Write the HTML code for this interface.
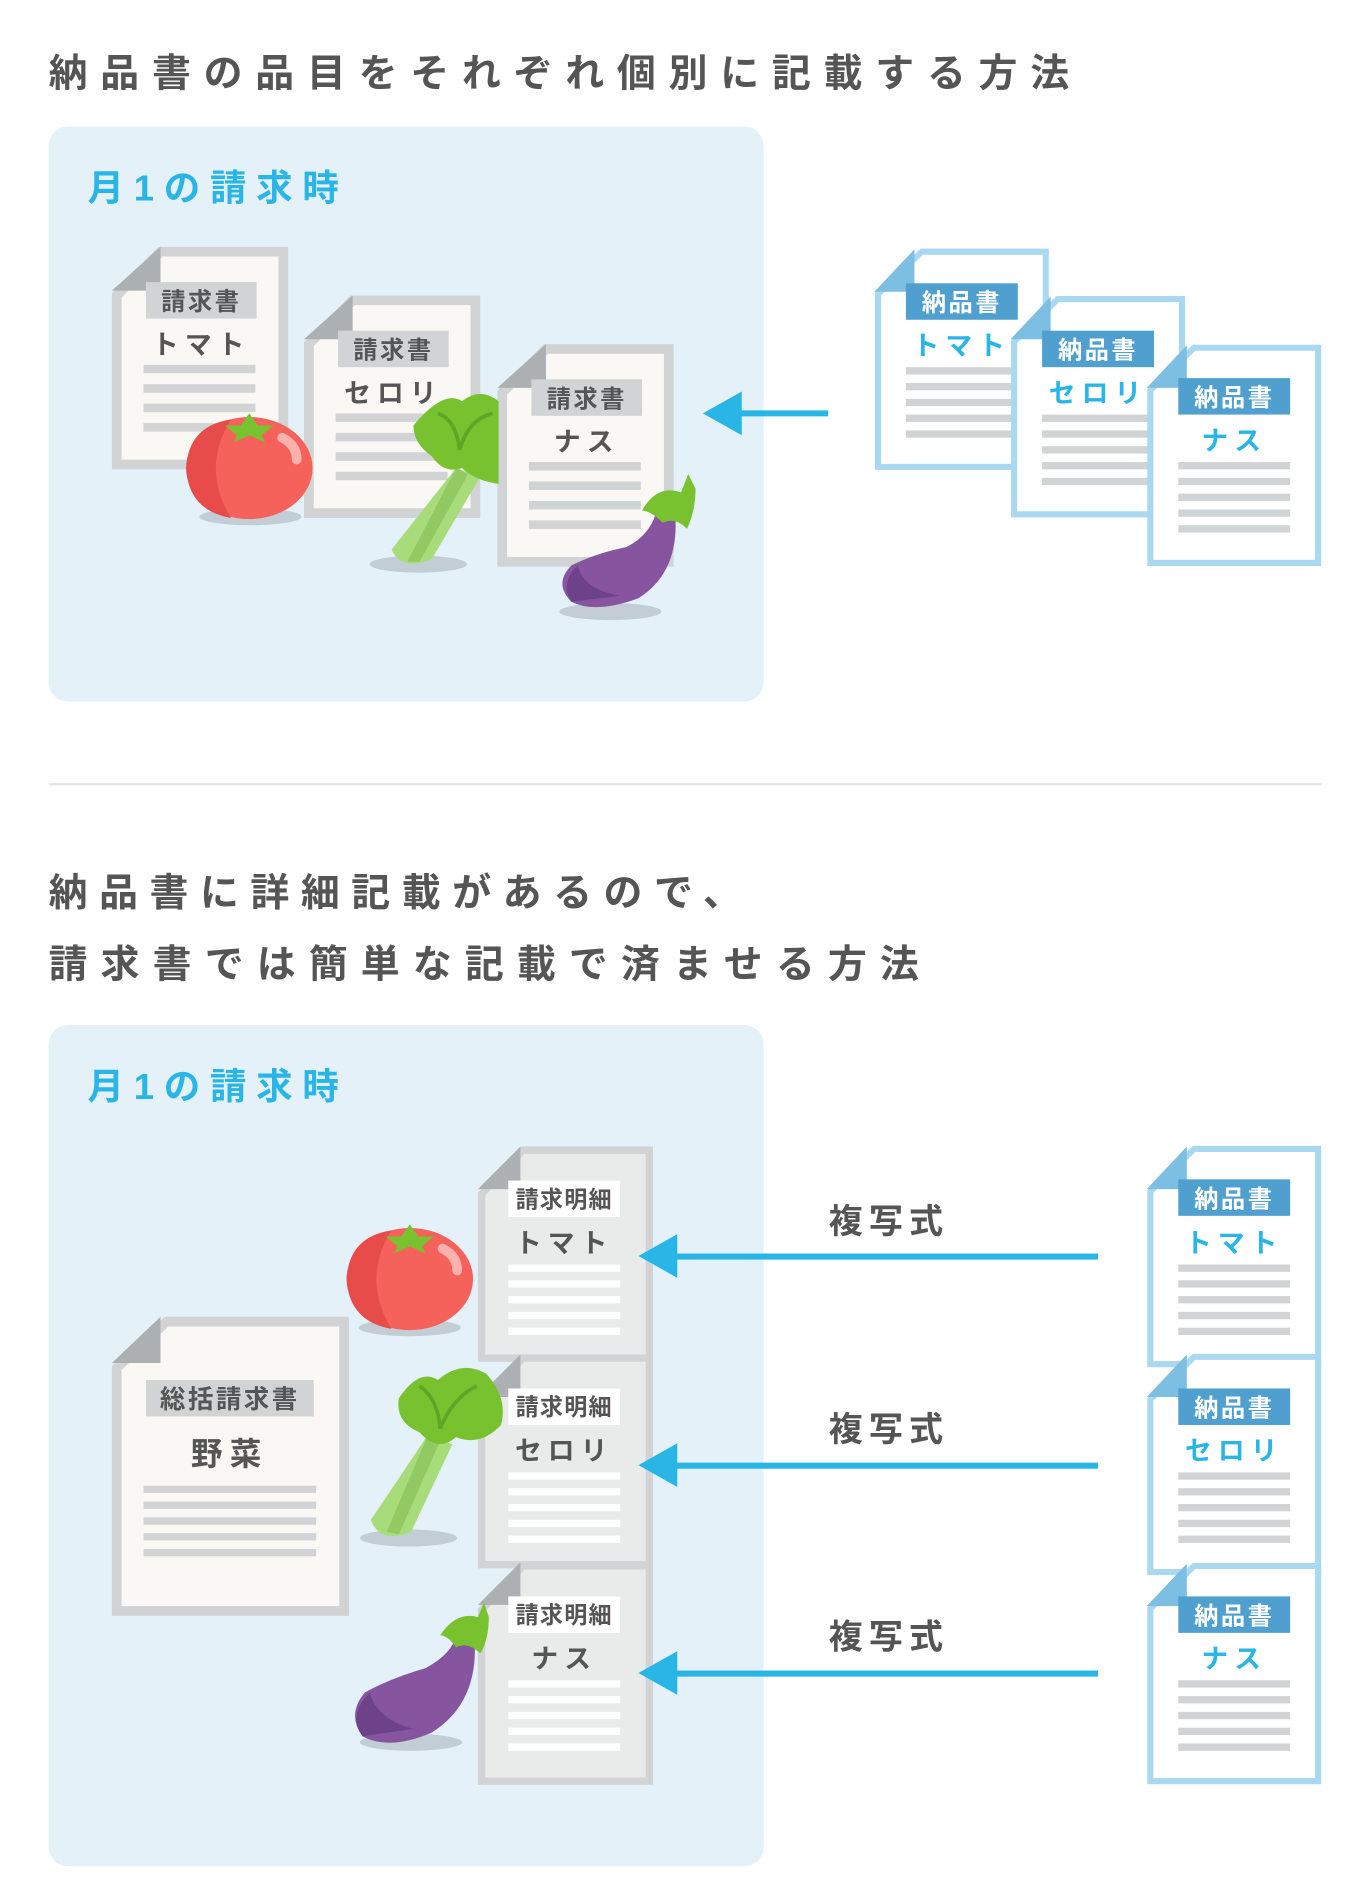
<!DOCTYPE html>
<html><head><meta charset="utf-8">
<style>
html,body{margin:0;padding:0;background:#fff;}
svg{display:block;}
text{font-family:"Liberation Sans","Noto Sans CJK JP",sans-serif;}
</style></head>
<body>
<svg width="1368" height="1904" viewBox="0 0 1125 1566" preserveAspectRatio="none" xmlns="http://www.w3.org/2000/svg">
<!-- headings -->
<text x="40" y="71" font-size="32" font-weight="bold" fill="#555" letter-spacing="10.5">納品書の品目をそれぞれ個別に記載する方法</text>
<line x1="40" y1="645" x2="1087" y2="645" stroke="#e6e6e6" stroke-width="2"/>
<text x="40" y="745" font-size="32" font-weight="bold" fill="#555" letter-spacing="9.5">納品書に詳細記載があるので、</text>
<text x="40" y="804" font-size="32" font-weight="bold" fill="#555" letter-spacing="10.8">請求書では簡単な記載で済ませる方法</text>

<!-- panels -->
<rect x="40" y="104" width="588" height="473" rx="16" fill="#e4f1f9"/>
<text x="72" y="165" font-size="30" font-weight="bold" fill="#29b5e8" letter-spacing="8">月1の請求時</text>
<rect x="40" y="843" width="588" height="692" rx="16" fill="#e4f1f9"/>
<text x="72" y="904" font-size="30" font-weight="bold" fill="#29b5e8" letter-spacing="8">月1の請求時</text>

<!-- TOP gray docs -->
<g>
<polygon points="132,207 233,207 233,382 96,382 96,243" fill="#f9f8f4" stroke="#d1d3d4" stroke-width="8"/>
<polygon points="92,239 132,203 132,239" fill="#adb0b2"/>
<rect x="120" y="232" width="91" height="30" fill="#d1d3d4"/>
<text x="165.5" y="255" font-size="20" font-weight="bold" fill="#555" text-anchor="middle" letter-spacing="2">請求書</text>
<text x="165.5" y="291" font-size="22" font-weight="bold" fill="#555" text-anchor="middle" letter-spacing="5">トマト</text>
<g fill="#d1d3d4"><rect x="118" y="300" width="92" height="7"/><rect x="118" y="316" width="92" height="7"/><rect x="118" y="332" width="92" height="7"/><rect x="118" y="348" width="92" height="7"/></g>
</g>
<g>
<polygon points="290,247 391,247 391,422 254,422 254,283" fill="#f9f8f4" stroke="#d1d3d4" stroke-width="8"/>
<polygon points="250,279 290,243 290,279" fill="#adb0b2"/>
<rect x="278" y="272" width="91" height="30" fill="#d1d3d4"/>
<text x="323.5" y="295" font-size="20" font-weight="bold" fill="#555" text-anchor="middle" letter-spacing="2">請求書</text>
<text x="323.5" y="331" font-size="22" font-weight="bold" fill="#555" text-anchor="middle" letter-spacing="5">セロリ</text>
<g fill="#d1d3d4"><rect x="276" y="340" width="92" height="7"/><rect x="276" y="356" width="92" height="7"/><rect x="276" y="372" width="92" height="7"/><rect x="276" y="388" width="92" height="7"/></g>
</g>
<g>
<polygon points="449,287 550,287 550,462 413,462 413,323" fill="#f9f8f4" stroke="#d1d3d4" stroke-width="8"/>
<polygon points="409,319 449,283 449,319" fill="#adb0b2"/>
<rect x="437" y="312" width="91" height="30" fill="#d1d3d4"/>
<text x="482.5" y="335" font-size="20" font-weight="bold" fill="#555" text-anchor="middle" letter-spacing="2">請求書</text>
<text x="482.5" y="371" font-size="22" font-weight="bold" fill="#555" text-anchor="middle" letter-spacing="5">ナス</text>
<g fill="#d1d3d4"><rect x="435" y="380" width="92" height="7"/><rect x="435" y="396" width="92" height="7"/><rect x="435" y="412" width="92" height="7"/><rect x="435" y="428" width="92" height="7"/></g>
</g>

<!-- top vegetables -->
<g>
<ellipse cx="206" cy="425" rx="42" ry="7" fill="#c2cdd5"/>
<ellipse cx="205" cy="385" rx="52" ry="42" fill="#f5625b"/>
<path d="M190,345 Q165,385 190,426 Q155,420 153,385 Q155,350 190,345Z" fill="#e84c4a"/>
<polygon points="205,340 212,350 225,350 215,358 218,364 205,358 192,364 195,358 185,350 198,350" fill="#78c22f"/>
<path d="M232,360 Q244,366 244,378" stroke="#fbb1ad" stroke-width="8" fill="none" stroke-linecap="round"/>
</g>
<g>
<ellipse cx="344" cy="464" rx="40" ry="7" fill="#c2cdd5"/>
<path d="M375,385 L395,392 L355,460 Q330,470 322,452 Z" fill="#a8dc7a"/>
<path d="M375,385 L385,390 L345,462 L335,462Z" fill="#92c962"/>
<path d="M340,350 Q365,320 380,330 Q395,318 410,330 L410,398 Q390,395 380,385 Q365,390 355,375 Q340,365 340,350Z" fill="#78c22f"/>
<path d="M360,340 Q375,345 378,370 Q385,345 405,340" stroke="#5ea625" stroke-width="3" fill="none"/>
</g>
<g>
<ellipse cx="502" cy="503" rx="42" ry="7" fill="#c2cdd5"/>
<path d="M555,420 Q560,470 525,492 Q490,505 470,495 Q455,480 470,465 Q490,455 515,450 Q535,440 540,420Z" fill="#8755a0"/>
<path d="M470,495 Q460,480 475,465 Q480,485 510,490 Z" fill="#6e4288"/>
<path d="M528,420 Q540,398 560,405 L566,390 L572,402 Q572,420 565,435 Q555,425 545,430 Q535,420 528,420Z" fill="#78c22f"/>
</g>

<!-- top arrow -->
<line x1="605" y1="340" x2="681" y2="340" stroke="#29b6e6" stroke-width="5"/>
<polygon points="578,340 610,322 610,358" fill="#29b6e6"/>

<!-- TOP blue docs -->
<g>
<polygon points="758,207 860,207 860,384 722,384 722,242" fill="#fff" stroke="#a9d8f0" stroke-width="5"/>
<polygon points="719,240 752,205 752,240" fill="#7cbfe3"/>
<rect x="745" y="233" width="92" height="30" fill="#4f9fcf"/>
<text x="791" y="256" font-size="20" font-weight="bold" fill="#fff" text-anchor="middle" letter-spacing="2">納品書</text>
<text x="791" y="292" font-size="22" font-weight="bold" fill="#29b5e8" text-anchor="middle" letter-spacing="5">トマト</text>
<g fill="#d1d3d4"><rect x="745" y="302" width="92" height="6"/><rect x="745" y="315" width="92" height="6"/><rect x="745" y="328" width="92" height="6"/><rect x="745" y="341" width="92" height="6"/><rect x="745" y="354" width="92" height="6"/></g>
</g>
<g>
<polygon points="870,246 972,246 972,423 834,423 834,281" fill="#fff" stroke="#a9d8f0" stroke-width="5"/>
<polygon points="831,279 864,244 864,279" fill="#7cbfe3"/>
<rect x="857" y="272" width="92" height="30" fill="#4f9fcf"/>
<text x="903" y="295" font-size="20" font-weight="bold" fill="#fff" text-anchor="middle" letter-spacing="2">納品書</text>
<text x="903" y="331" font-size="22" font-weight="bold" fill="#29b5e8" text-anchor="middle" letter-spacing="5">セロリ</text>
<g fill="#d1d3d4"><rect x="857" y="341" width="92" height="6"/><rect x="857" y="354" width="92" height="6"/><rect x="857" y="367" width="92" height="6"/><rect x="857" y="380" width="92" height="6"/><rect x="857" y="393" width="92" height="6"/></g>
</g>
<g>
<polygon points="982,286 1084,286 1084,463 946,463 946,321" fill="#fff" stroke="#a9d8f0" stroke-width="5"/>
<polygon points="943,319 976,284 976,319" fill="#7cbfe3"/>
<rect x="969" y="311" width="92" height="30" fill="#4f9fcf"/>
<text x="1015" y="334" font-size="20" font-weight="bold" fill="#fff" text-anchor="middle" letter-spacing="2">納品書</text>
<text x="1015" y="370" font-size="22" font-weight="bold" fill="#29b5e8" text-anchor="middle" letter-spacing="5">ナス</text>
<g fill="#d1d3d4"><rect x="969" y="380" width="92" height="6"/><rect x="969" y="393" width="92" height="6"/><rect x="969" y="406" width="92" height="6"/><rect x="969" y="419" width="92" height="6"/><rect x="969" y="432" width="92" height="6"/></g>
</g>

<!-- BOTTOM summary doc -->
<g>
<polygon points="137,1087 283,1087 283,1325 96,1325 96,1125" fill="#f9f8f4" stroke="#d1d3d4" stroke-width="8"/>
<polygon points="92,1121 132,1083 132,1121" fill="#adb0b2"/>
<rect x="120" y="1135" width="138" height="30" fill="#d1d3d4"/>
<text x="189" y="1158" font-size="21" font-weight="bold" fill="#555" text-anchor="middle" letter-spacing="2">総括請求書</text>
<text x="189" y="1205" font-size="26" font-weight="bold" fill="#555" text-anchor="middle" letter-spacing="6">野菜</text>
<g fill="#d1d3d4"><rect x="118" y="1222" width="142" height="6"/><rect x="118" y="1235" width="142" height="6"/><rect x="118" y="1248" width="142" height="6"/><rect x="118" y="1261" width="142" height="6"/><rect x="118" y="1274" width="142" height="6"/></g>
</g>

<!-- detail docs -->
<g>
<polygon points="430,946 534,946 534,1117 396,1117 396,982" fill="#e9eaea" stroke="#d1d3d4" stroke-width="6"/>
<polygon points="393,978 428,943 428,978" fill="#adb0b2"/>
<rect x="418" y="971" width="92" height="30" fill="#fff"/>
<text x="464" y="993" font-size="19" font-weight="bold" fill="#555" text-anchor="middle" letter-spacing="1">請求明細</text>
<text x="464" y="1030" font-size="22" font-weight="bold" fill="#555" text-anchor="middle" letter-spacing="5">トマト</text>
<g fill="#fff"><rect x="418" y="1040" width="92" height="6"/><rect x="418" y="1053" width="92" height="6"/><rect x="418" y="1066" width="92" height="6"/><rect x="418" y="1079" width="92" height="6"/><rect x="418" y="1092" width="92" height="6"/></g>
</g>
<g>
<polygon points="430,1117 534,1117 534,1287 396,1287 396,1153" fill="#e9eaea" stroke="#d1d3d4" stroke-width="6"/>
<polygon points="393,1149 428,1114 428,1149" fill="#adb0b2"/>
<rect x="418" y="1142" width="92" height="30" fill="#fff"/>
<text x="464" y="1164" font-size="19" font-weight="bold" fill="#555" text-anchor="middle" letter-spacing="1">請求明細</text>
<text x="464" y="1201" font-size="22" font-weight="bold" fill="#555" text-anchor="middle" letter-spacing="5">セロリ</text>
<g fill="#fff"><rect x="418" y="1211" width="92" height="6"/><rect x="418" y="1224" width="92" height="6"/><rect x="418" y="1237" width="92" height="6"/><rect x="418" y="1250" width="92" height="6"/><rect x="418" y="1263" width="92" height="6"/></g>
</g>
<g>
<polygon points="430,1288 534,1288 534,1465 396,1465 396,1324" fill="#e9eaea" stroke="#d1d3d4" stroke-width="6"/>
<polygon points="393,1320 428,1285 428,1320" fill="#adb0b2"/>
<rect x="418" y="1313" width="92" height="30" fill="#fff"/>
<text x="464" y="1335" font-size="19" font-weight="bold" fill="#555" text-anchor="middle" letter-spacing="1">請求明細</text>
<text x="464" y="1372" font-size="22" font-weight="bold" fill="#555" text-anchor="middle" letter-spacing="5">ナス</text>
<g fill="#fff"><rect x="418" y="1382" width="92" height="6"/><rect x="418" y="1395" width="92" height="6"/><rect x="418" y="1408" width="92" height="6"/><rect x="418" y="1421" width="92" height="6"/><rect x="418" y="1434" width="92" height="6"/></g>
</g>

<!-- bottom vegetables -->
<g>
<ellipse cx="337" cy="1092" rx="42" ry="7" fill="#c2cdd5"/>
<ellipse cx="337" cy="1052" rx="52" ry="42" fill="#f5625b"/>
<path d="M322,1012 Q297,1052 322,1093 Q287,1087 285,1052 Q287,1017 322,1012Z" fill="#e84c4a"/>
<polygon points="337,1007 344,1017 357,1017 347,1025 350,1031 337,1025 324,1031 327,1025 317,1017 330,1017" fill="#78c22f"/>
<path d="M364,1027 Q376,1033 376,1045" stroke="#fbb1ad" stroke-width="8" fill="none" stroke-linecap="round"/>
</g>
<g>
<ellipse cx="336" cy="1265" rx="40" ry="7" fill="#c2cdd5"/>
<path d="M352,1180 L372,1188 L338,1260 Q312,1270 305,1250 Z" fill="#a8dc7a"/>
<path d="M352,1180 L362,1185 L328,1262 L318,1260Z" fill="#92c962"/>
<path d="M328,1150 Q345,1125 360,1135 Q380,1118 400,1130 Q418,1150 412,1172 Q395,1190 375,1182 Q360,1195 345,1178 Q325,1170 328,1150Z" fill="#78c22f"/>
<path d="M345,1140 Q360,1150 362,1175 Q372,1150 392,1140" stroke="#5ea625" stroke-width="3" fill="none"/>
</g>
<g>
<ellipse cx="338" cy="1433" rx="42" ry="7" fill="#c2cdd5"/>
<path d="M390,1345 Q395,1400 355,1425 Q320,1440 298,1428 Q285,1410 300,1392 Q322,1380 350,1372 Q372,1360 375,1345Z" fill="#8755a0"/>
<path d="M298,1428 Q286,1410 304,1392 Q310,1414 340,1422 Z" fill="#6e4288"/>
<path d="M362,1345 Q375,1325 393,1330 L398,1318 L402,1330 Q402,1348 395,1360 Q385,1350 375,1355 Q368,1345 362,1345Z" fill="#78c22f"/>
</g>

<!-- bottom arrows -->
<g fill="#29b6e6">
<rect x="552" y="1031" width="351" height="5"/><polygon points="525,1033 557,1015 557,1051"/>
<rect x="552" y="1203" width="351" height="5"/><polygon points="525,1205 557,1187 557,1223"/>
<rect x="552" y="1374" width="351" height="5"/><polygon points="525,1376 557,1358 557,1394"/>
</g>
<g font-size="28" font-weight="bold" fill="#555" text-anchor="middle" letter-spacing="5">
<text x="731" y="1014">複写式</text>
<text x="731" y="1185">複写式</text>
<text x="731" y="1356">複写式</text>
</g>

<!-- bottom blue docs -->
<g>
<polygon points="982,945 1084,945 1084,1122 946,1122 946,980" fill="#fff" stroke="#a9d8f0" stroke-width="5"/>
<polygon points="943,978 976,943 976,978" fill="#7cbfe3"/>
<rect x="969" y="970" width="92" height="30" fill="#4f9fcf"/>
<text x="1015" y="993" font-size="20" font-weight="bold" fill="#fff" text-anchor="middle" letter-spacing="2">納品書</text>
<text x="1015" y="1030" font-size="22" font-weight="bold" fill="#29b5e8" text-anchor="middle" letter-spacing="5">トマト</text>
<g fill="#d1d3d4"><rect x="969" y="1040" width="92" height="6"/><rect x="969" y="1053" width="92" height="6"/><rect x="969" y="1066" width="92" height="6"/><rect x="969" y="1079" width="92" height="6"/><rect x="969" y="1092" width="92" height="6"/></g>
</g>
<g>
<polygon points="982,1116 1084,1116 1084,1293 946,1293 946,1151" fill="#fff" stroke="#a9d8f0" stroke-width="5"/>
<polygon points="943,1149 976,1114 976,1149" fill="#7cbfe3"/>
<rect x="969" y="1142" width="92" height="30" fill="#4f9fcf"/>
<text x="1015" y="1165" font-size="20" font-weight="bold" fill="#fff" text-anchor="middle" letter-spacing="2">納品書</text>
<text x="1015" y="1201" font-size="22" font-weight="bold" fill="#29b5e8" text-anchor="middle" letter-spacing="5">セロリ</text>
<g fill="#d1d3d4"><rect x="969" y="1211" width="92" height="6"/><rect x="969" y="1224" width="92" height="6"/><rect x="969" y="1237" width="92" height="6"/><rect x="969" y="1250" width="92" height="6"/><rect x="969" y="1263" width="92" height="6"/></g>
</g>
<g>
<polygon points="982,1288 1084,1288 1084,1465 946,1465 946,1323" fill="#fff" stroke="#a9d8f0" stroke-width="5"/>
<polygon points="943,1321 976,1286 976,1321" fill="#7cbfe3"/>
<rect x="969" y="1313" width="92" height="30" fill="#4f9fcf"/>
<text x="1015" y="1336" font-size="20" font-weight="bold" fill="#fff" text-anchor="middle" letter-spacing="2">納品書</text>
<text x="1015" y="1372" font-size="22" font-weight="bold" fill="#29b5e8" text-anchor="middle" letter-spacing="5">ナス</text>
<g fill="#d1d3d4"><rect x="969" y="1382" width="92" height="6"/><rect x="969" y="1395" width="92" height="6"/><rect x="969" y="1408" width="92" height="6"/><rect x="969" y="1421" width="92" height="6"/><rect x="969" y="1434" width="92" height="6"/></g>
</g>
</svg>
</body></html>
